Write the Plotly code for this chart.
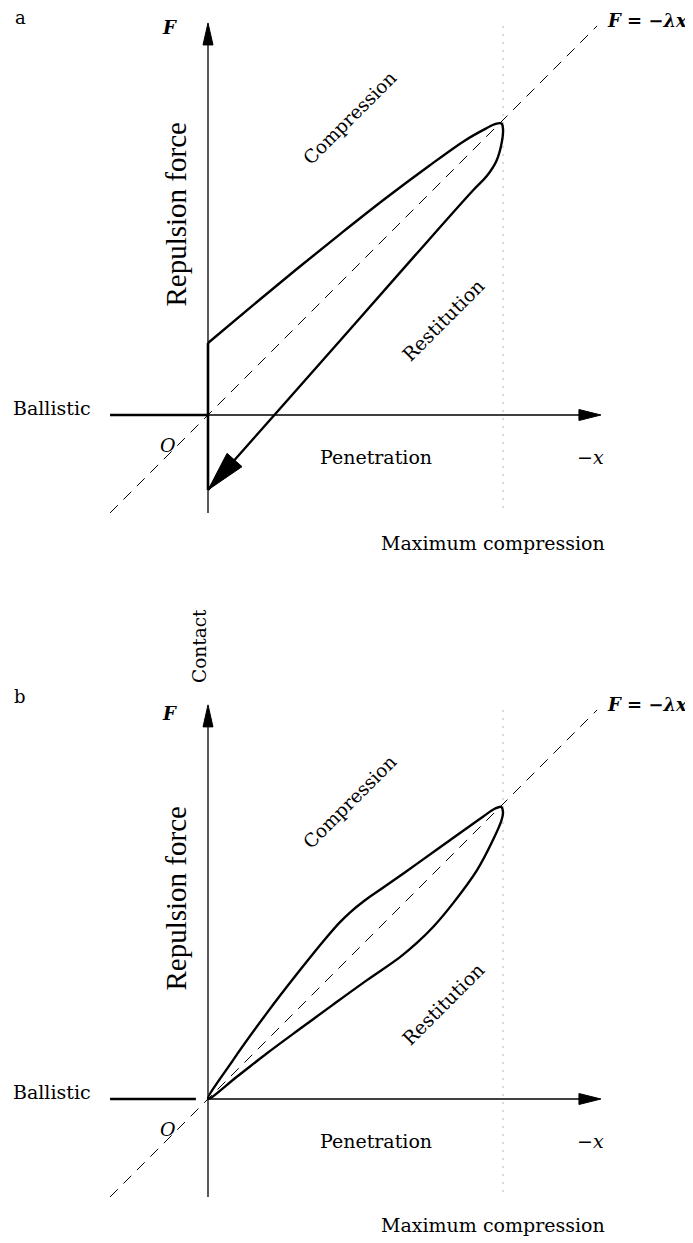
import plotly.graph_objects as go
import math

# ---------------- data (normalized units: x = -penetration / max compression, F = force / peak) ----
# Panel a: loop with a force jump at contact
a_jump_F = [0.244, -0.254]                      # vertical segment at x = 0
a_comp_x = [0.0, 0.15, 0.30, 0.45, 0.60, 0.75, 0.87, 0.94, 0.975, 0.995, 1.000]
a_comp_F = [0.244, 0.370, 0.494, 0.615, 0.733, 0.845, 0.930, 0.970, 0.987, 0.988, 0.970]
a_rest_x = [1.000, 0.996, 0.978, 0.945, 0.898, 0.702, 0.481, 0.234, 0.0]
a_rest_F = [0.970, 0.925, 0.862, 0.810, 0.761, 0.541, 0.290, 0.010, -0.254]

# Panel b: smooth loop starting and ending at the origin
b_comp_x = [0.0, 0.085, 0.200, 0.312, 0.403, 0.445, 0.481, 0.530, 0.593, 0.708, 0.820, 0.932, 0.972, 0.994, 1.000]
b_comp_F = [0.0, 0.132, 0.292, 0.437, 0.549, 0.597, 0.632, 0.672, 0.716, 0.797, 0.877, 0.957, 0.984, 0.990, 0.972]
b_rest_x = [1.000, 0.995, 0.966, 0.912, 0.831, 0.763, 0.708, 0.651, 0.539, 0.424, 0.312, 0.200, 0.100, 0.0]
b_rest_F = [0.972, 0.945, 0.878, 0.776, 0.664, 0.583, 0.529, 0.481, 0.403, 0.320, 0.238, 0.155, 0.077, 0.0]

# reference line F = -lambda x, and axis extents
ref_x = [-0.332, 1.319]
x_max_compression = 1.0
ballistic_x = {"a": [-0.332, 0.0], "b": [-0.332, -0.041]}
x_axis_end = 1.332
y_axis_bottom = -0.332
y_axis_top = {"a": 1.329, "b": 1.336}
dotted_F = [-0.315, 1.322]

# label texts
label_F = "<b><i>F</i></b>"
label_law = "<b><i>F</i> = −<i>λx</i></b>"
label_force = "Repulsion force"
label_comp = "Compression"
label_rest = "Restitution"
label_ball = "Ballistic"
label_O = "<i>O</i>"
label_pen = "Penetration"
label_mx = "−<i>x</i>"
label_max = "Maximum compression"
label_contact = "Contact"

PX = 295.0   # pixels per unit (same in x and F)
OFF = 8      # page margin of the html body
W, H = 685, 1235   # figure size so that page (with 8px body margin) fills a 693x1243 window
ORIGIN_COL = 208
ORIGIN_ROW = {"a": 415, "b": 1099}
SPLIT_ROW = 590

fig = go.Figure()

SERIF = "DejaVu Serif"


def ax(panel):
    return ("x", "y") if panel == "a" else ("x2", "y2")


def line(xs, ys, panel, width, dash=None, color="black", shape="linear", smoothing=1.0):
    xa, ya = ax(panel)
    fig.add_trace(go.Scatter(x=xs, y=ys, mode="lines",
                             line=dict(color=color, width=width, dash=dash, shape=shape,
                                       smoothing=smoothing),
                             xaxis=xa, yaxis=ya, hoverinfo="skip", showlegend=False))


def arrowhead(tip, frm, length_px, half_w_px, panel):
    dx, dy = tip[0] - frm[0], tip[1] - frm[1]
    n = math.hypot(dx, dy)
    ux, uy = dx / n, dy / n
    L, Hw = length_px / PX, half_w_px / PX
    bx, by = tip[0] - L * ux, tip[1] - L * uy
    px, py = -uy, ux
    xs = [tip[0], bx + Hw * px, bx - Hw * px, tip[0]]
    ys = [tip[1], by + Hw * py, by - Hw * py, tip[1]]
    xa, ya = ax(panel)
    fig.add_trace(go.Scatter(x=xs, y=ys, mode="lines", fill="toself", fillcolor="black",
                             line=dict(color="black", width=1), xaxis=xa, yaxis=ya,
                             hoverinfo="skip", showlegend=False))


def text(t, x, y, panel, size=19, angle=0, family=SERIF, xanchor="center"):
    xa, ya = ax(panel)
    fig.add_annotation(text=t, x=x, y=y, xref=xa, yref=ya, showarrow=False,
                       textangle=angle, xanchor=xanchor,
                       font=dict(family=family, size=size, color="black"))


for panel in ["a", "b"]:
    # dotted maximum compression line
    line([x_max_compression, x_max_compression], dotted_F, panel, 1, dash="2px,6px", color="#b0b0b0")
    # dashed reference line F = -lambda x
    line(ref_x, ref_x, panel, 1, dash="11px,8px")
    # axes
    line([0, x_axis_end - 20 / PX], [0, 0], panel, 1.3)
    arrowhead((x_axis_end, 0), (0, 0), 22, 5.5, panel)
    line([0, 0], [y_axis_bottom, y_axis_top[panel] - 20 / PX], panel, 1.3)
    arrowhead((0, y_axis_top[panel]), (0, 0), 22, 5, panel)
    # ballistic phase
    line(ballistic_x[panel], [0, 0], panel, 2.6)

# panel a loop
line([0, 0], a_jump_F, "a", 2.6)
line(a_comp_x + a_rest_x[1:], a_comp_F + a_rest_F[1:], "a", 2.4, shape="spline")
arrowhead((a_rest_x[-1], a_rest_F[-1]), (a_rest_x[-2], a_rest_F[-2]), 40, 10, "a")

# panel b loop
line(b_comp_x + b_rest_x[1:], b_comp_F + b_rest_F[1:], "b", 2.4, shape="spline")

# labels
for panel in ["a", "b"]:
    text(panel, -0.637, 1.346 if panel == "a" else 1.363, panel, size=18)
    text(label_F, -0.129, 1.312 if panel == "a" else 1.308, panel, size=18)
    text(label_law, (689 - ORIGIN_COL) / PX, 1.339, panel, size=18, xanchor="right")
    text(label_force, -0.108, 0.68, panel, size=29, angle=-90, family="Liberation Serif")
    text(label_comp, 0.481, 1.01, panel, size=18.5, angle=-45)
    text(label_rest, 0.797, 0.322, panel, size=19, angle=-45)
    text(label_ball, -0.529, 0.024, panel, size=19)
    text(label_O, -0.136, -0.10, panel, size=19)
    text(label_pen, 0.569, -0.142, panel, size=19)
    text(label_mx, 1.298, -0.142, panel, size=19)
    text(label_max, 0.966, -0.434 if panel == "a" else -0.428, panel, size=19)

text(label_contact, -0.027, 1.536, "b", size=18.5, angle=-90)

# axis ranges: figure pixel p corresponds to page pixel p + OFF
xr = [(OFF - ORIGIN_COL) / PX, (W + OFF - ORIGIN_COL) / PX]
split = 1 - (SPLIT_ROW - OFF) / H
ya_range = [(ORIGIN_ROW["a"] - SPLIT_ROW) / PX, (ORIGIN_ROW["a"] - OFF) / PX]
yb_range = [(ORIGIN_ROW["b"] - (H + OFF)) / PX, (ORIGIN_ROW["b"] - SPLIT_ROW) / PX]

fig.update_layout(
    width=W, height=H,
    margin=dict(l=0, r=0, t=0, b=0),
    paper_bgcolor="white", plot_bgcolor="white",
    showlegend=False,
    xaxis=dict(domain=[0, 1], range=xr, visible=False, anchor="y"),
    yaxis=dict(domain=[split, 1], range=ya_range, visible=False, anchor="x"),
    xaxis2=dict(domain=[0, 1], range=xr, visible=False, anchor="y2"),
    yaxis2=dict(domain=[0, split], range=yb_range, visible=False, anchor="x2"),
)

fig.write_html("out.html")
